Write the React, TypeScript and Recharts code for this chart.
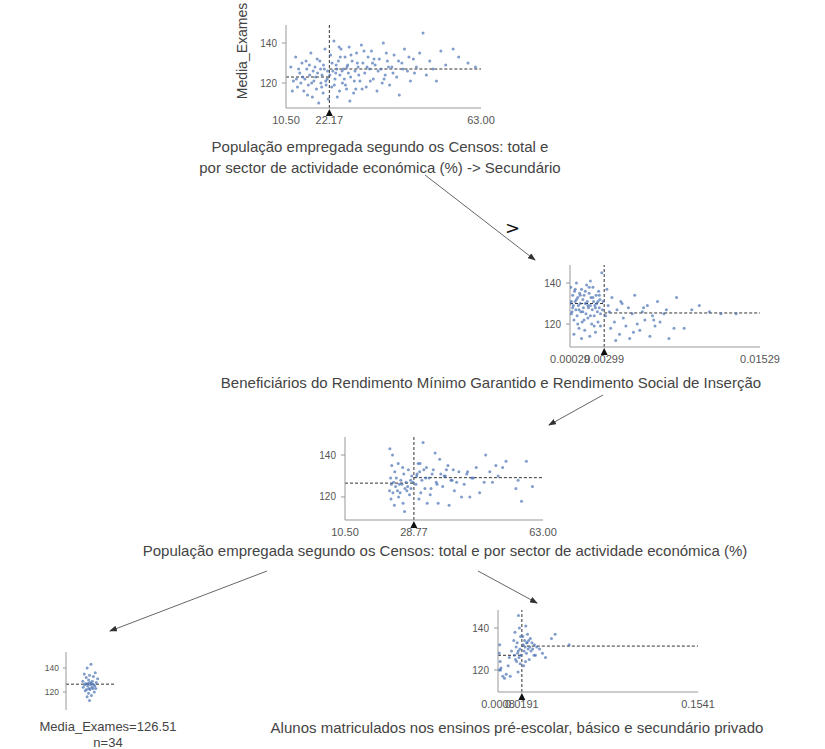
import React from 'react';
import { ScatterChart, Scatter, XAxis, YAxis, ReferenceLine, ReferenceDot } from 'recharts';

const FONT = 'Arial, "Liberation Sans", sans-serif';
const TXT = '#444';
const AXIS = '#999';
const DASH = '#333';
const DOT = '#4a72b5';

// root node: População empregada ... -> Secundário (x) vs Media_Exames (y)
const rootPoints: [number, number][] = [
  [11.8, 128], [12.5, 121], [13.1, 133], [13.6, 118], [14.2, 125], [14.8, 130], [15.3, 116], [15.6, 122],
  [16.1, 127], [16.5, 119], [16.9, 124], [17.2, 135], [17.6, 113], [18.0, 121], [18.3, 128], [18.7, 117],
  [19.0, 125], [19.3, 110], [19.6, 131], [19.9, 120], [20.2, 124], [20.5, 115], [20.8, 127], [21.0, 137],
  [21.3, 119], [21.6, 122], [21.9, 112], [17.8, 126], [15.0, 123], [13.9, 127], [20.1, 118], [16.3, 114],
  [18.9, 132], [21.7, 126], [12.2, 116], [14.5, 120], [16.8, 129], [18.5, 123], [19.8, 127], [21.2, 121],
  [13.3, 122], [15.9, 131], [17.4, 120], [20.6, 129],
  [22.5, 134], [22.8, 118], [23.1, 126], [23.4, 141], [23.7, 122], [24.0, 129], [24.3, 113], [24.6, 131],
  [25.0, 124], [25.3, 137], [25.7, 120], [26.0, 127], [26.4, 133], [26.8, 117], [27.1, 129], [27.5, 138],
  [27.9, 123], [28.3, 131], [28.7, 115], [29.1, 126], [29.5, 135], [29.9, 128], [30.4, 121], [30.8, 139],
  [31.2, 130], [31.7, 125], [32.1, 118], [32.6, 133], [33.0, 127], [33.5, 136], [34.0, 122], [34.5, 129],
  [35.0, 116], [35.6, 132], [36.1, 127], [36.7, 140], [37.2, 124], [37.8, 131], [38.4, 119], [39.0, 128],
  [39.6, 134], [40.3, 123], [41.0, 114], [41.7, 130], [42.4, 137], [43.2, 126], [44.0, 121], [44.8, 132],
  [45.6, 128], [46.5, 135], [47.4, 145], [48.3, 124], [49.2, 131], [50.1, 127], [51.0, 121], [52.2, 136],
  [53.5, 129], [55.5, 137], [57.0, 133], [59.5, 130], [61.5, 128], [24.9, 116], [27.7, 111], [23.9, 125],
  [26.2, 122], [22.9, 130], [23.5, 119], [24.2, 127], [25.1, 133], [25.6, 126], [26.5, 119], [27.3, 125],
  [28.0, 134], [28.9, 121], [29.7, 130], [30.1, 124], [31.0, 117], [31.5, 136], [32.3, 128], [33.2, 121],
  [34.2, 132], [35.3, 126], [36.4, 120], [37.5, 135], [38.1, 128], [39.3, 125], [40.8, 131], [42.0, 127],
  [43.6, 133], [45.1, 125], [22.3, 124], [24.8, 138], [26.9, 128], [29.3, 117], [33.8, 130], [36.9, 122],
];

// Beneficiários do Rendimento Mínimo Garantido ...
const benefPoints: [number, number][] = [
  [0.00035, 138], [0.0004, 131], [0.00045, 126], [0.0005, 134], [0.00055, 129], [0.0006, 122], [0.00065, 136],
  [0.0007, 131], [0.00075, 127], [0.0008, 140], [0.00085, 124], [0.0009, 133], [0.00095, 129], [0.001, 118],
  [0.00105, 135], [0.0011, 130], [0.00115, 126], [0.0012, 137], [0.00125, 121], [0.0013, 132], [0.00135, 128],
  [0.0014, 134], [0.00145, 117], [0.0015, 130], [0.00155, 125], [0.0016, 139], [0.00165, 131], [0.0017, 123],
  [0.00175, 128], [0.0018, 135], [0.00185, 114], [0.0019, 129], [0.00195, 133], [0.002, 120], [0.00205, 127],
  [0.0021, 138], [0.00215, 131], [0.0022, 124], [0.00225, 129], [0.0023, 116], [0.00235, 134], [0.0024, 130],
  [0.00245, 126], [0.0025, 121], [0.00255, 136], [0.0026, 128], [0.00265, 132], [0.0027, 119], [0.0028, 145],
  [0.00285, 127], [0.0029, 131], [0.0006, 115], [0.0012, 113], [0.0019, 141], [0.0004, 125], [0.0007, 137],
  [0.0009, 120], [0.0011, 134], [0.0013, 126], [0.0015, 136], [0.0017, 129], [0.0019, 124], [0.0021, 133],
  [0.0023, 128], [0.0025, 131], [0.0027, 125], [0.0005, 128], [0.0008, 132], [0.0014, 122], [0.0018, 138],
  [0.0022, 119], [0.0026, 134], [0.0003, 130], [0.001, 127],
  [0.0031, 124], [0.0033, 129], [0.0035, 118], [0.0036, 133], [0.0038, 121], [0.004, 127], [0.0042, 115],
  [0.0043, 131], [0.0045, 123], [0.0047, 119], [0.0049, 128], [0.005, 113], [0.0052, 125], [0.0054, 134],
  [0.0056, 120], [0.0058, 117], [0.006, 126], [0.0062, 122], [0.0064, 129], [0.0066, 114], [0.0068, 124],
  [0.007, 119], [0.0072, 131], [0.0074, 121], [0.0077, 125], [0.0081, 113], [0.0085, 118], [0.0087, 133],
  [0.0093, 118], [0.0099, 127], [0.0105, 129], [0.0113, 126], [0.0122, 125], [0.0134, 125], [0.0032, 137],
  [0.0039, 112], [0.0034, 126], [0.0044, 130], [0.0053, 116], [0.0061, 128], [0.0069, 122], [0.0079, 127],
];

// leaf (n=34): Media_Exames values, jitter positions, and their x in the População node
const leafY = [143, 140, 136, 135, 134, 133, 132, 131, 130, 129, 129, 128, 128, 127, 127, 127, 126,
  126, 126, 125, 125, 124, 124, 123, 123, 122, 123, 122, 121, 120, 119, 117, 116, 113];
const leafX = [0.52, 0.44, 0.61, 0.38, 0.49, 0.57, 0.42, 0.66, 0.47, 0.35, 0.55, 0.5, 0.63, 0.41, 0.53,
  0.46, 0.58, 0.39, 0.51, 0.6, 0.45, 0.54, 0.36, 0.48, 0.62, 0.43, 0.56, 0.5, 0.4, 0.59, 0.47, 0.53, 0.44, 0.49];
const popLeftX = [22.4, 23.1, 24.6, 22.9, 25.8, 27.3, 23.7, 26.1, 28.2, 22.6, 24.1, 25.3, 27.9, 23.4, 26.7,
  28.5, 22.8, 24.9, 25.6, 27.1, 23.9, 26.4, 28.0, 22.3, 24.4, 25.1, 26.9, 23.2, 27.6, 24.7, 22.7, 25.9, 23.6, 26.3];

// right child: Media_Exames, x in Alunos node, x in População node
const alunosY = [146, 140, 138, 136, 134, 133, 132, 131, 130, 129, 129, 128, 128, 127, 127, 126, 126, 125,
  124, 124, 123, 122, 121, 120, 119, 118, 117, 116, 120, 117,
  122, 141, 137, 136, 135, 134, 134, 133, 133, 132, 132, 131, 131, 131, 130, 130, 130, 129, 129, 128, 128,
  127, 127, 126, 125, 124, 137, 132, 135, 133];
const alunosX = [0.0165, 0.0172, 0.0138, 0.0181, 0.0129, 0.0155, 0.0021, 0.0147, 0.0176, 0.0112, 0.0163,
  0.0018, 0.0158, 0.0134, 0.0184, 0.0095, 0.0169, 0.0142, 0.0025, 0.0151, 0.0178, 0.0086, 0.0031, 0.0019,
  0.0162, 0.0071, 0.0045, 0.0058, 0.0027, 0.0102,
  0.0205, 0.0221, 0.0234, 0.0198, 0.0256, 0.0212, 0.0243, 0.0268, 0.0229, 0.0287, 0.0201, 0.0252, 0.0305,
  0.0216, 0.0274, 0.0239, 0.0326, 0.0208, 0.0261, 0.0349, 0.0226, 0.0295, 0.0284, 0.0372, 0.0247, 0.0219,
  0.0446, 0.0553, 0.0418, 0.0231];
const popRightX = [31.2, 47.8, 35.6, 30.4, 52.3, 33.9, 40.7, 29.6, 37.1, 44.5, 32.8, 38.9, 30.9, 49.6, 34.7,
  42.1, 29.3, 36.4, 55.8, 31.7, 39.5, 46.2, 33.1, 41.4, 30.1, 57.3, 35.2, 38.1, 43.6, 32.3,
  30.6, 34.4, 53.2, 29.9, 37.8, 32.1, 45.3, 31.4, 39.2, 48.9, 30.3, 35.9, 42.8, 33.6, 51.1, 36.8, 29.5,
  44.1, 31.9, 38.6, 56.4, 40.1, 47.4, 34.9, 60.2, 33.3, 58.6, 43.0, 50.5, 37.4];

// split values, tick labels and node means (left, right)
const rootSplit = 22.17;
const rootTicks = [10.5, 22.17, 63.0];
const rootLabels = ['10.50', '22.17', '63.00'];
const rootMeans = [123, 127];

const benefSplit = 0.00299;
const benefTicks = [0.00029, 0.00299, 0.01529];
const benefLabels = ['0.00029', '0.00299', '0.01529'];
const benefMeans = [130, 125.4];

const popSplit = 28.77;
const popTicks = [10.5, 28.77, 63.0];
const popLabels = ['10.50', '28.77', '63.00'];
const popMeans = [126.6, 129.2];

const alunosSplit = 0.0191;
const alunosTicks = [0.0008, 0.0191, 0.1541];
const alunosLabels = ['0.0008', '0.0191', '0.1541'];
const alunosMeans = [127, 131.4];

const leafMean = 126.51;
const yTicks = [120, 140];

type Pt = { x: number; y: number };
const toPts = (a: [number, number][]): Pt[] => a.map(([x, y]) => ({ x, y }));
const zipPts = (xs: number[], ys: number[]): Pt[] => xs.map((x, i) => ({ x, y: ys[i] }));

interface NodeProps {
  left: number; top: number; w: number; h: number;
  xDomain: [number, number]; yDomain: [number, number];
  data: Pt[]; split?: number; means: number[];
  xTicks?: number[]; xLabels?: string[];
  small?: boolean;
}

const MT = 4, MR = 30, XH = 22;

const dotShape = (p: any) => <circle cx={p.cx} cy={p.cy} r={1.5} fill={DOT} fillOpacity={0.7} />;

function NodePlot(p: NodeProps) {
  const YW = p.small ? 28 : 36;
  const hasX = !!p.xTicks;
  const w = YW + p.w + MR;
  const h = MT + p.h + (hasX ? XH : 2);
  const [x0, x1] = p.xDomain;
  return (
    <div style={{ position: 'absolute', left: p.left - YW, top: p.top - MT }}>
      <ScatterChart width={w} height={h} margin={{ top: MT, right: MR, bottom: hasX ? 0 : 2, left: 0 }}>
        <XAxis
          type="number" dataKey="x" domain={p.xDomain} allowDataOverflow hide={!hasX}
          ticks={p.xTicks} interval={0} height={XH} tickLine={false}
          axisLine={{ stroke: AXIS }}
          tick={{ fontSize: 11, fill: '#555', fontFamily: FONT }}
          tickFormatter={(v: number, i: number) => (p.xLabels ? p.xLabels[i] : String(v))}
        />
        <YAxis
          type="number" dataKey="y" domain={p.yDomain} allowDataOverflow ticks={yTicks} interval={0}
          width={YW} tickSize={p.small ? 3 : 4} tickMargin={p.small ? 4 : 5}
          axisLine={{ stroke: AXIS }} tickLine={{ stroke: AXIS }}
          tick={{ fontSize: p.small ? 8.5 : 10, fill: '#555', fontFamily: FONT }}
        />
        <Scatter data={p.data} isAnimationActive={false} shape={dotShape} />
        {p.split !== undefined ? (
          <>
            <ReferenceLine segment={[{ x: x0, y: p.means[0] }, { x: p.split, y: p.means[0] }]} stroke={DASH} strokeDasharray="3 2" />
            <ReferenceLine segment={[{ x: p.split, y: p.means[1] }, { x: x1, y: p.means[1] }]} stroke={DASH} strokeDasharray="3 2" />
            <ReferenceLine x={p.split} stroke={DASH} strokeDasharray="3 2" />
            <ReferenceDot
              x={p.split} y={p.yDomain[0]} r={3}
              shape={(d: any) => (
                <polygon points={`${d.cx - 3.5},${d.cy + 8} ${d.cx + 3.5},${d.cy + 8} ${d.cx},${d.cy + 1}`} fill="#111" />
              )}
            />
          </>
        ) : (
          <ReferenceLine y={p.means[0]} stroke={DASH} strokeDasharray="3 2" />
        )}
      </ScatterChart>
    </div>
  );
}

const Label = ({ x, y, size = 15, children }: { x: number; y: number; size?: number; children: React.ReactNode }) => (
  <div style={{
    position: 'absolute', left: x, top: y, transform: 'translate(-50%, -50%)', whiteSpace: 'nowrap',
    fontSize: size, color: TXT, fontFamily: FONT, lineHeight: 1,
  }}>{children}</div>
);

const arrows = [
  [425, 175, 535, 260],
  [603, 395, 549, 425],
  [267, 571, 110, 631],
  [478, 571, 537, 603],
];

export default function App() {
  return (
    <div style={{ position: 'absolute', left: 0, top: 0, width: 825, height: 749, background: '#fff', overflow: 'hidden', fontFamily: FONT }}>
      <NodePlot left={286} top={25} w={195} h={83} xDomain={[10.5, 63]} yDomain={[107.5, 149]}
        data={toPts(rootPoints)} split={rootSplit} means={rootMeans} xTicks={rootTicks} xLabels={rootLabels} />
      <div style={{
        position: 'absolute', left: 242, top: 51, transform: 'translate(-50%, -50%) rotate(-90deg)',
        whiteSpace: 'nowrap', fontSize: 14, color: TXT, fontFamily: FONT, lineHeight: 1,
      }}>Media_Exames</div>
      <Label x={380} y={146}>População empregada segundo os Censos: total e</Label>
      <Label x={380} y={167}>por sector de actividade económica (%) -&gt; Secundário</Label>

      <NodePlot left={570} top={265} w={190} h={82} xDomain={[0.00029, 0.01529]} yDomain={[108.8, 148.8]}
        data={toPts(benefPoints)} split={benefSplit} means={benefMeans} xTicks={benefTicks} xLabels={benefLabels} />
      <Label x={491} y={382}>Beneficiários do Rendimento Mínimo Garantido e Rendimento Social de Inserção</Label>

      <NodePlot left={345} top={437} w={198} h={83} xDomain={[10.5, 63]} yDomain={[109, 148.6]}
        data={[...zipPts(popLeftX, leafY), ...zipPts(popRightX, alunosY)]} split={popSplit} means={popMeans}
        xTicks={popTicks} xLabels={popLabels} />
      <Label x={445} y={550}>População empregada segundo os Censos: total e por sector de actividade económica (%)</Label>

      <NodePlot left={498} top={610} w={200} h={82} xDomain={[0.0008, 0.1541]} yDomain={[109.5, 148.6]}
        data={zipPts(alunosX, alunosY)} split={alunosSplit} means={alunosMeans} xTicks={alunosTicks} xLabels={alunosLabels} />
      <Label x={517} y={727}>Alunos matriculados nos ensinos pré-escolar, básico e secundário privado</Label>

      <NodePlot left={66} top={652} w={48} h={58} xDomain={[0, 1]} yDomain={[105, 153.3]}
        data={zipPts(leafX, leafY)} means={[leafMean]} small />
      <Label x={108} y={726} size={13}>Media_Exames=126.51</Label>
      <Label x={108} y={742} size={13}>n=34</Label>

      <svg width={825} height={749} style={{ position: 'absolute', left: 0, top: 0, pointerEvents: 'none' }}>
        <defs>
          <marker id="ah" markerWidth="8" markerHeight="6" refX="7" refY="3" orient="auto" markerUnits="userSpaceOnUse">
            <path d="M0,0 L8,3 L0,6 z" fill="#333" />
          </marker>
        </defs>
        {arrows.map(([a, b, c, d], i) => (
          <line key={i} x1={a} y1={b} x2={c} y2={d} stroke="#555" strokeWidth={0.9} markerEnd="url(#ah)" />
        ))}
        <text x={505} y={234} fontSize={18} fill="#111" fontFamily="DejaVu Sans">&gt;</text>
      </svg>
    </div>
  );
}
